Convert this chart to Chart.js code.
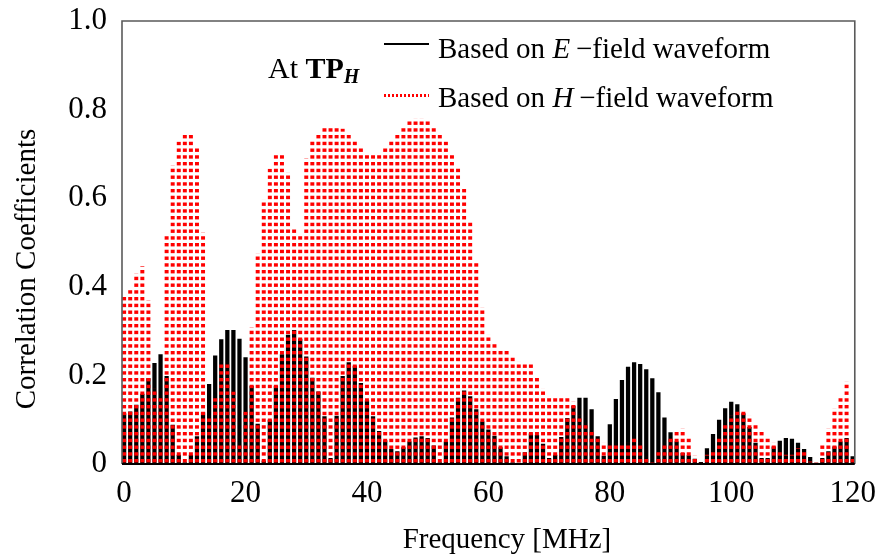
<!DOCTYPE html>
<html>
<head>
<meta charset="utf-8">
<script src="https://cdn.jsdelivr.net/npm/chart.js@4.4.1/dist/chart.umd.min.js"></script>
<style>
    body { margin: 0; background: #fff; }
    #wrap { position: relative; width: 887px; height: 560px; font-family: "Liberation Serif", "Times New Roman", serif; overflow: hidden; }
    .note { position: absolute; font-size: 29px; line-height: 30px; color: #000; white-space: nowrap; }
    .note sub { font-size: 20px; vertical-align: -5px; line-height: 0; }
    .key { position: absolute; width: 45px; }
    .axis-title { position: absolute; font-size: 29px; line-height: 30px; color: #000; white-space: nowrap; text-align: center; }
</style>
</head>
<body>
<div id="wrap">
    <canvas id="corrChart"></canvas>
    <div class="axis-title" style="left:357px; top:523px; width:300px;">Frequency [MHz]</div>
    <div class="axis-title" style="left:-175px; top:254px; width:400px; height:30px; transform:rotate(-90deg);">Correlation Coefficients</div>
    <div class="note" style="left:268px; top:53px; font-size:30px;">At <b>TP<sub><i>H</i></sub></b></div>
    <div class="key" style="left:384px; top:43px; height:2px; background:#000;"></div>
    <div class="key" style="left:384px; top:94px; height:3px; background:repeating-linear-gradient(90deg, #ff0000 0 2px, transparent 2px 4px);"></div>
    <div class="note" style="left:438px; top:33px;">Based on <i>E</i>&#8201;&minus;field waveform</div>
    <div class="note" style="left:438px; top:82px;">Based on <i>H</i>&#8201;&minus;field waveform</div>
</div>
<script>
const freqMHz = [
    0, 1, 2, 3, 4, 5, 6, 7, 8, 9, 10, 11, 12, 13, 14, 15, 16, 17, 18, 19,
    20, 21, 22, 23, 24, 25, 26, 27, 28, 29, 30, 31, 32, 33, 34, 35, 36, 37, 38, 39,
    40, 41, 42, 43, 44, 45, 46, 47, 48, 49, 50, 51, 52, 53, 54, 55, 56, 57, 58, 59,
    60, 61, 62, 63, 64, 65, 66, 67, 68, 69, 70, 71, 72, 73, 74, 75, 76, 77, 78, 79,
    80, 81, 82, 83, 84, 85, 86, 87, 88, 89, 90, 91, 92, 93, 94, 95, 96, 97, 98, 99,
    100, 101, 102, 103, 104, 105, 106, 107, 108, 109, 110, 111, 112, 113, 114, 115, 116, 117, 118, 119,
    120
];

// correlation based on E-field waveform (black)
const eField = [
    0.114, 0.118, 0.133, 0.158, 0.193, 0.227, 0.247, 0.198, 0.088, 0.020,
    0.003, 0.020, 0.062, 0.116, 0.180, 0.244, 0.281, 0.302, 0.302, 0.282,
    0.240, 0.176, 0.090, 0.007, 0.099, 0.176, 0.247, 0.291, 0.302, 0.282,
    0.242, 0.194, 0.163, 0.107, 0.013, 0.108, 0.198, 0.229, 0.221, 0.182,
    0.143, 0.107, 0.074, 0.053, 0.033, 0.028, 0.037, 0.050, 0.059, 0.062,
    0.058, 0.041, 0.003, 0.050, 0.104, 0.149, 0.165, 0.152, 0.123, 0.095,
    0.077, 0.063, 0.037, 0.017, 0.003, 0.002, 0.026, 0.068, 0.065, 0.045,
    0.013, 0.020, 0.060, 0.103, 0.131, 0.149, 0.149, 0.123, 0.062, 0.018,
    0.089, 0.146, 0.189, 0.219, 0.229, 0.225, 0.213, 0.193, 0.161, 0.104,
    0.071, 0.050, 0.024, 0.019, 0.011, 0.004, 0.035, 0.067, 0.099, 0.125,
    0.140, 0.134, 0.114, 0.083, 0.047, 0.013, 0.013, 0.039, 0.052, 0.058,
    0.056, 0.047, 0.033, 0.015, 0.002, 0.013, 0.028, 0.039, 0.050, 0.058,
    0.017
];

// correlation based on H-field waveform (red dotted)
const hField = [
    0.378, 0.393, 0.429, 0.446, 0.369, 0.170, 0.155, 0.516, 0.673, 0.727,
    0.743, 0.745, 0.714, 0.521, 0.103, 0.148, 0.230, 0.229, 0.163, 0.046,
    0.118, 0.308, 0.475, 0.596, 0.666, 0.700, 0.702, 0.657, 0.531, 0.520,
    0.689, 0.731, 0.746, 0.760, 0.762, 0.761, 0.756, 0.745, 0.731, 0.717,
    0.702, 0.702, 0.702, 0.717, 0.732, 0.747, 0.762, 0.777, 0.779, 0.779,
    0.777, 0.762, 0.747, 0.728, 0.702, 0.668, 0.621, 0.548, 0.453, 0.353,
    0.291, 0.275, 0.261, 0.255, 0.244, 0.230, 0.228, 0.225, 0.200, 0.169,
    0.153, 0.148, 0.155, 0.154, 0.140, 0.109, 0.094, 0.077, 0.062, 0.047,
    0.044, 0.043, 0.044, 0.047, 0.060, 0.047, 0.014, 0.004, 0.028, 0.043,
    0.062, 0.073, 0.079, 0.060, 0.018, 0.002, 0.020, 0.032, 0.060, 0.090,
    0.110, 0.122, 0.123, 0.108, 0.092, 0.075, 0.062, 0.048, 0.028, 0.020,
    0.020, 0.035, 0.032, 0.005, 0.003, 0.043, 0.079, 0.124, 0.155, 0.185,
    0.017
];

const xTicks = [0, 20, 40, 60, 80, 100, 120];
const yTicks = [0, 0.2, 0.4, 0.6, 0.8, 1.0];

const FONT = "'Liberation Serif', 'Times New Roman', serif";

function makeDotPattern(ctx) {
    const c = document.createElement("canvas");
    c.width = 8;
    c.height = 27;
    const g = c.getContext("2d");
    g.fillStyle = "#ff0000";
    for (let k = 0; k < 4; k++) g.fillRect(0, k * 6.75, 8, 3.4);
    return ctx.createPattern(c, "repeat");
}

const framePlugin = {
    id: "frame",
    afterDatasetsDraw(chart) {
        const { ctx, chartArea: a } = chart;
        ctx.save();
        ctx.strokeStyle = "#5a5a5a";
        ctx.lineWidth = 1.6;
        ctx.beginPath();
        ctx.moveTo(a.left, a.bottom);
        ctx.lineTo(a.left, a.top);
        ctx.lineTo(a.right, a.top);
        ctx.lineTo(a.right, a.bottom);
        ctx.stroke();
        ctx.strokeStyle = "#000";
        ctx.lineWidth = 2;
        ctx.beginPath();
        ctx.moveTo(a.left, a.bottom);
        ctx.lineTo(a.right, a.bottom);
        ctx.stroke();
        ctx.restore();
    }
};

function initChart() {
    const ctx = document.getElementById("corrChart").getContext("2d");
    const dots = makeDotPattern(ctx);

    new Chart(ctx, {
        type: "bar",
        data: {
            datasets: [
                {
                    label: "Based on E-field waveform",
                    data: freqMHz.map((f, i) => ({ x: f, y: eField[i] })),
                    backgroundColor: "#000",
                    barThickness: 3.6,
                    grouped: false,
                    order: 2
                },
                {
                    label: "Based on H-field waveform",
                    data: freqMHz.map((f, i) => ({ x: f, y: hField[i] })),
                    backgroundColor: dots,
                    barThickness: 3.3,
                    grouped: false,
                    order: 1
                }
            ]
        },
        options: {
            responsive: true,
            maintainAspectRatio: false,
            animation: false,
            layout: { padding: { top: 21, right: 30, left: 0, bottom: 0 } },
            plugins: { legend: { display: false }, tooltip: { enabled: false } },
            scales: {
                x: {
                    type: "linear",
                    offset: false,
                    min: -0.35,
                    max: 120.35,
                    afterBuildTicks: s => { s.ticks = xTicks.map(v => ({ value: v })); },
                    afterFit: s => { s.height = 96; },
                    grid: { display: false, drawTicks: false, offset: false },
                    border: { display: false },
                    ticks: { color: "#000", font: { family: FONT, size: 31 }, padding: 11, maxRotation: 0, autoSkip: false }
                },
                y: {
                    min: 0,
                    max: 1.0,
                    afterBuildTicks: s => { s.ticks = yTicks.map(v => ({ value: v })); },
                    afterFit: s => {
                        s.width = 122;
                        s.paddingTop = 0;
                        s.paddingBottom = 0;
                    },
                    grid: { display: false, drawTicks: false },
                    border: { display: false },
                    ticks: {
                        color: "#000",
                        font: { family: FONT, size: 31 },
                        padding: 15,
                        callback: v => v === 0 ? "0" : v.toFixed(1)
                    }
                }
            }
        },
        plugins: [framePlugin]
    });
}

document.addEventListener("DOMContentLoaded", initChart);
</script>
</body>
</html>
